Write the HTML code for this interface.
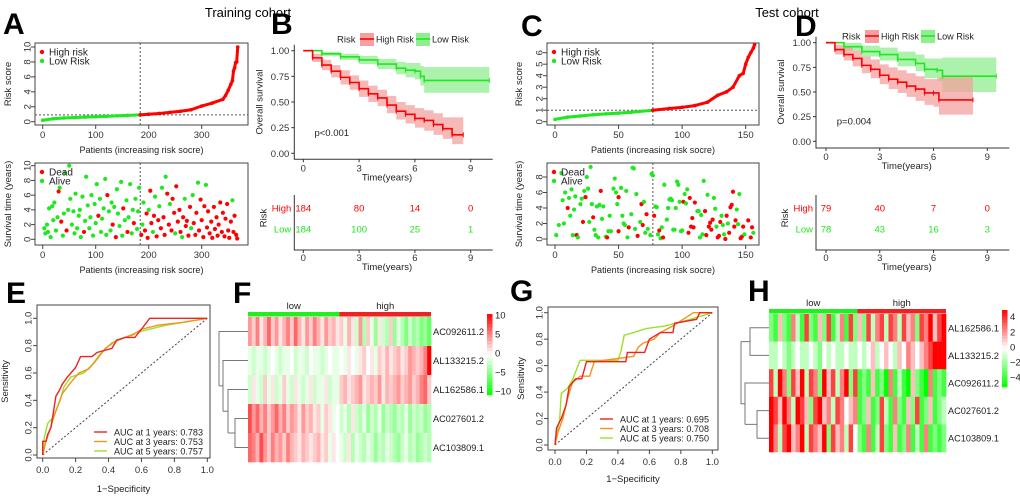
<!DOCTYPE html>
<html><head><meta charset="utf-8">
<style>
html,body{margin:0;padding:0;background:#fff;}
svg{display:block;font-family:"Liberation Sans",Arial,sans-serif;}
.t{font-size:9.5px;fill:#222;}
.tk{font-size:9.5px;fill:#333;}
.L{font-size:30px;font-weight:bold;fill:#000;}
</style></head>
<body>
<svg id="fig" width="1020" height="498" viewBox="0 0 1020 498" xmlns="http://www.w3.org/2000/svg">
<text x="248" y="17" text-anchor="middle" font-size="13">Training cohort</text>
<text x="787" y="17" text-anchor="middle" font-size="13">Test cohort</text>
<text class="L" x="3" y="34">A</text>
<text class="L" x="271" y="34">B</text>
<text class="L" x="521" y="36">C</text>
<text class="L" x="795" y="36">D</text>
<text class="L" x="6" y="303">E</text>
<text class="L" x="233" y="303">F</text>
<text class="L" x="510" y="301">G</text>
<text class="L" x="748" y="301">H</text>
<g id="root"></g>
</svg>
<script>
// ---------- DATA ----------
const riskIdxA=[0,20,40,60,80,100,120,140,160,184,200,220,240,260,280,300,320,340,345,350,355,358,360,362,364,366,368];
const riskValA=[0.2,0.4,0.5,0.56,0.62,0.67,0.72,0.78,0.84,0.92,1.0,1.1,1.25,1.4,1.6,2.1,2.5,3.0,3.5,4.2,5.0,5.5,6.8,7.2,7.9,8.0,10.0];
const riskIdxC=[0,10,20,30,40,50,60,77,90,100,110,120,128,135,140,145,148,150,152,154,156,157];
const riskValC=[0.2,0.4,0.5,0.6,0.68,0.75,0.82,1.0,1.15,1.25,1.4,1.7,2.3,2.6,3.0,4.0,4.2,5.0,5.6,6.0,6.4,6.7];
const survA=[[3,1.5,0],[5,0.8,0],[8,2,0],[10,1,0],[12,4.2,0],[15,0.3,0],[18,4.5,0],[20,2.6,0],[22,5,0],[25,1.2,0],[28,3,0],[30,6.5,1],[32,7,0],[35,2.4,1],[38,0.5,0],[40,3.5,0],[42,9,0],[45,1.2,1],[48,4,0],[50,10,0],[52,5.5,0],[55,2,0],[58,3.8,0],[60,0.8,0],[62,6.2,0],[65,1.5,0],[68,3.2,0],[70,4,0],[72,0.3,0],[75,5.8,0],[78,1,1],[80,2.5,0],[82,8.5,0],[85,4.6,0],[88,1.5,0],[90,3,0],[92,6,0],[95,0.5,0],[98,4.8,0],[100,2.2,0],[102,7.5,0],[105,3.2,1],[108,5.5,0],[110,1,0],[112,2.8,0],[115,4.2,0],[118,8.2,0],[120,0.6,0],[122,6,1],[125,3.8,0],[128,1.2,0],[130,5,0],[132,2,1],[135,4.4,0],[138,0.3,1],[140,6.8,0],[142,3.5,0],[145,1.8,0],[148,7.8,0],[150,0.5,0],[152,4.2,1],[155,2.6,0],[158,5.3,0],[160,1,1],[162,3,0],[165,7.5,0],[168,0.8,0],[170,4,0],[172,2.2,1],[175,5.5,0],[178,1.4,0],[180,3.8,0],[182,7,0],[186,0.6,1],[188,2,0],[190,5,0],[193,1.2,1],[196,3.5,1],[198,0.2,1],[200,4,0],[203,6.6,1],[205,2.2,1],[208,1,0],[210,3.2,1],[212,5.8,0],[215,0.4,1],[218,2.6,1],[220,4.5,0],[223,1.5,1],[225,7,0],[228,3,1],[230,0.6,1],[232,8.5,0],[235,6.2,1],[238,2,1],[240,4.8,0],[243,1.2,1],[245,5.5,1],[248,3.6,1],[250,0.8,0],[252,7.2,1],[255,2.4,1],[258,4,1],[260,1,1],[263,0.3,0],[265,3,1],[268,5.5,0],[270,1.8,1],[272,2.5,1],[275,0.5,1],[278,4.4,1],[280,1.5,0],[283,6,0],[285,2.2,1],[288,0.6,1],[290,3.6,1],[293,7.7,0],[295,1.2,1],[298,5.4,1],[300,2.6,1],[303,0.3,1],[305,4.5,1],[308,7.4,0],[310,1.6,1],[312,3.8,1],[315,0.8,1],[318,2.4,1],[320,0.2,1],[323,4.4,1],[325,1.4,1],[328,3,1],[330,0.5,1],[332,2,1],[335,5,1],[338,1,1],[340,3.6,1],[343,0.4,1],[345,2.8,1],[348,4.8,1],[350,1.2,1],[352,0.2,1],[355,2.4,1],[358,5.3,0],[360,1,1],[362,3.2,1],[365,0.6,1],[367,0.1,1]];
const survC=[[1,0.5,0],[3,1.8,0],[5,8.5,0],[6,5,0],[7,2,0],[8,6,0],[10,4,1],[11,5.3,0],[12,3,0],[13,6.4,0],[14,0.5,0],[15,3.8,0],[16,5.5,0],[17,0.5,1],[18,0.2,0],[20,4.5,0],[21,5.2,0],[22,2.2,1],[23,6.2,0],[24,5.4,1],[25,8,0],[26,6.5,0],[27,2.2,0],[28,9.3,0],[29,4.5,0],[30,2.8,1],[31,1.2,0],[32,0.5,0],[33,4.2,0],[34,0.2,0],[35,4.4,0],[36,6.2,1],[37,2.6,0],[38,4.2,0],[40,0.3,0],[41,0.2,1],[42,1,0],[43,3,0],[44,1,0],[46,6.5,0],[47,7.8,0],[48,6,0],[49,4.5,0],[50,5.4,1],[50,1,1],[52,6.6,0],[53,3,0],[54,2,0],[55,1.8,0],[56,6.2,0],[57,0.2,0],[58,1.5,1],[60,3.2,0],[61,9.2,0],[62,9.1,0],[63,1.3,0],[64,5.8,0],[65,0.4,1],[67,2.2,0],[68,4.5,1],[69,1.8,1],[70,4.8,0],[71,0.8,0],[72,3.2,1],[73,1.3,0],[75,0.5,0],[76,8.4,0],[77,8.2,0],[78,3,1],[79,4.2,0],[80,4.1,0],[81,0.6,0],[82,1.1,1],[83,0.1,0],[84,1.5,0],[85,0.2,1],[86,7,0],[88,2.5,0],[89,4,0],[90,5.1,0],[91,5.2,0],[92,5,0],[93,1.2,0],[94,1.2,0],[95,4,0],[96,7.4,0],[97,7,0],[98,4.8,0],[99,1,0],[100,1.1,0],[101,4.8,1],[102,5.8,0],[103,4.6,0],[104,6.4,0],[105,0.8,1],[106,5.3,1],[107,1.6,1],[108,2.7,1],[109,1.5,1],[110,4.7,1],[112,3.6,0],[113,3.6,0],[114,0.2,0],[115,3.1,0],[116,0.6,0],[117,7.5,0],[118,3.6,1],[119,0.5,1],[120,5.7,0],[121,1.6,1],[122,2.1,1],[123,1.2,1],[124,2.5,1],[125,5.3,0],[126,3.9,0],[127,1.6,0],[128,0.2,1],[129,0.4,1],[130,2.2,1],[131,3,0],[132,1.8,0],[133,0.6,0],[134,0,1],[135,3,1],[136,2,0],[137,0.8,1],[138,4.1,1],[139,4.4,1],[140,6.1,1],[141,1.6,1],[142,2.4,1],[143,3.8,0],[144,1.9,0],[145,5.8,0],[146,0.1,1],[147,0.3,1],[148,1.6,1],[149,0.6,0],[152,2.4,1],[154,0.2,1],[155,1.5,1],[156,0.8,0]];
// KM
const bHighT=[0,0.5,1,1.5,2,2.5,3,3.5,4,4.5,5,5.5,6,6.5,7,7.5,8,8.6];
const bHighS=[1,0.93,0.86,0.8,0.74,0.69,0.63,0.58,0.54,0.47,0.41,0.38,0.34,0.32,0.28,0.24,0.18,0.18];
const bHighLo=[1,0.89,0.81,0.74,0.67,0.62,0.55,0.5,0.46,0.39,0.33,0.29,0.25,0.22,0.18,0.14,0.09,0.09];
const bHighHi=[1,0.97,0.91,0.86,0.81,0.76,0.71,0.66,0.62,0.56,0.5,0.47,0.44,0.42,0.39,0.35,0.35,0.35];
const bLowT=[0,1,2,3,4,5,5.5,6,6.3,6.5,10];
const bLowS=[1,0.97,0.94,0.91,0.87,0.83,0.81,0.8,0.75,0.71,0.71];
const bLowLo=[1,0.95,0.91,0.87,0.82,0.77,0.74,0.72,0.66,0.59,0.59];
const bLowHi=[1,0.99,0.97,0.95,0.92,0.89,0.88,0.88,0.85,0.84,0.84];
const dHighT=[0,0.5,1,1.5,2,2.5,3,3.5,4,4.5,5,5.5,6,6.3,8.2];
const dHighS=[1,0.93,0.88,0.84,0.77,0.73,0.67,0.63,0.6,0.56,0.53,0.49,0.49,0.42,0.42];
const dHighLo=[1,0.88,0.82,0.76,0.69,0.64,0.58,0.53,0.49,0.45,0.41,0.37,0.35,0.27,0.27];
const dHighHi=[1,0.98,0.95,0.92,0.86,0.83,0.78,0.75,0.72,0.69,0.66,0.63,0.63,0.65,0.65];
const dLowT=[0,1,2,3,4,5,5.5,6.2,6.5,9.5];
const dLowS=[1,0.96,0.91,0.88,0.83,0.79,0.73,0.72,0.66,0.66];
const dLowLo=[1,0.92,0.86,0.82,0.76,0.71,0.64,0.61,0.5,0.5];
const dLowHi=[1,1,0.97,0.95,0.91,0.88,0.84,0.84,0.85,0.85];
const riskTimes=[0,3,6,9];
const bHighN=[184,80,14,0], bLowN=[184,100,25,1];
const dHighN=[79,40,7,0], dLowN=[78,43,16,3];
// ROC
const rocE1=[[0,0],[0,0.1],[0.02,0.1],[0.03,0.15],[0.05,0.2],[0.07,0.35],[0.08,0.43],[0.1,0.47],[0.12,0.52],[0.15,0.57],[0.2,0.64],[0.23,0.72],[0.3,0.72],[0.33,0.75],[0.42,0.78],[0.45,0.84],[0.5,0.86],[0.56,0.86],[0.6,0.92],[0.65,1],[1,1]];
const rocE3=[[0,0],[0.02,0.1],[0.04,0.17],[0.06,0.25],[0.08,0.32],[0.12,0.45],[0.17,0.53],[0.22,0.6],[0.28,0.63],[0.33,0.7],[0.38,0.78],[0.45,0.84],[0.55,0.88],[0.6,0.92],[0.7,0.95],[0.85,0.97],[0.9,0.98],[1,1]];
const rocE5=[[0,0],[0.01,0.13],[0.03,0.23],[0.06,0.27],[0.1,0.38],[0.13,0.5],[0.17,0.57],[0.25,0.6],[0.3,0.66],[0.35,0.74],[0.42,0.82],[0.5,0.86],[0.58,0.9],[0.65,0.92],[0.75,0.95],[0.9,0.98],[1,1]];
const rocG1=[[0,0],[0.01,0.13],[0.04,0.2],[0.07,0.3],[0.09,0.44],[0.13,0.5],[0.17,0.5],[0.2,0.63],[0.45,0.63],[0.46,0.7],[0.57,0.7],[0.6,0.8],[0.67,0.85],[0.75,0.85],[0.76,0.92],[0.9,0.95],[0.92,1],[1,1]];
const rocG3=[[0,0],[0.02,0.1],[0.05,0.2],[0.08,0.35],[0.11,0.47],[0.16,0.52],[0.22,0.52],[0.25,0.63],[0.5,0.67],[0.53,0.74],[0.56,0.77],[0.63,0.8],[0.67,0.85],[0.75,0.9],[0.88,1],[1,1]];
const rocG5=[[0,0],[0.03,0.2],[0.04,0.39],[0.08,0.43],[0.11,0.49],[0.16,0.64],[0.4,0.64],[0.42,0.71],[0.44,0.83],[0.5,0.85],[0.58,0.88],[0.7,0.9],[0.83,0.94],[1,1]];
const aucE=["0.783","0.753","0.757"], aucG=["0.695","0.708","0.750"];
// Heatmaps
const genesF=["AC092611.2","AL133215.2","AL162586.1","AC027601.2","AC103809.1"];
const heatF=[
[4,2,5,1,3,6,2,4,1,3,5,2,6,3,1,4,2,5,3,1,4,2,3,1,2,-1,3,1,-2,4,-3,2,-1,-4,1,-2,-3,2,-4,-1,-3,-5,-2,-4,-3,-5,-4,-6],
[-1,-2,-1,-1,-2,-1,0,-1,-2,-1,-1,0,-2,-1,-1,-2,0,-1,-1,-2,-1,0,-1,-1,0,-1,1,0,-1,1,2,0,1,-1,2,1,3,1,2,3,1,2,4,3,2,3,5,10],
[-2,1,-1,-2,2,-1,1,-2,-1,2,-1,-2,1,-1,-2,-1,1,-2,-1,-1,1,-2,-1,-1,2,3,1,2,3,4,1,2,3,2,4,1,3,2,3,4,2,3,4,2,3,5,6,2],
[7,4,6,3,5,2,4,6,3,5,2,4,3,1,4,2,3,1,2,-1,2,1,-1,0,-2,-1,-3,1,-2,-3,-1,-4,-2,-3,-1,-4,-2,-3,-4,-2,-3,-1,-4,-2,-3,-2,-4,-3],
[6,5,3,7,4,2,5,3,4,2,5,3,2,1,3,2,1,2,3,1,2,-1,1,0,-1,-2,1,-3,-1,-2,-3,-1,-2,-4,-2,-3,-1,-2,-3,-4,-2,-1,-3,-2,-4,-3,-2,-3]];
const genesH=["AL162586.1","AL133215.2","AC092611.2","AC027601.2","AC103809.1"];
const heatH=[
[-2,-3,1,-2,-3,2,-1,-3,3,-2,-3,1,-2,3,-3,-1,2,-3,3,-2,1,-2,3,-1,2,3,-1,3,2,-1,3,1,2,-2,3,2,4,1,3,4],
[-1,-1,0,-1,-2,-1,0,-1,-1,0,-1,-2,0,-1,0,-1,-1,0,-1,-1,0,-1,0,1,-1,0,1,0,-1,1,0,2,1,0,1,2,3,4,4,4],
[3,-1,4,2,-2,3,1,4,-1,3,2,-2,4,1,3,-1,2,4,-2,3,-3,-2,-3,1,-3,-2,-4,2,-3,-1,-3,-4,1,-2,-3,-4,2,-3,-2,-3],
[4,3,1,4,2,-1,4,3,1,-2,3,4,1,2,-1,3,2,0,1,2,-3,-2,1,-3,-2,3,-1,-3,2,-2,-3,1,-2,3,-3,-2,1,-3,-2,-1],
[4,2,-1,3,4,1,2,4,-1,3,2,1,4,-2,3,1,2,-1,3,0,-2,-3,2,-3,-1,3,-2,-3,1,-3,-2,2,-3,-1,-3,2,-3,-2,-3,-2]];

// ---------- helpers ----------
const NS="http://www.w3.org/2000/svg";
const root=document.getElementById('root');
function mk(tag,attrs,parent){const e=document.createElementNS(NS,tag);for(const k in attrs)e.setAttribute(k,attrs[k]);(parent||root).appendChild(e);return e;}
function txt(s,attrs,name){const e=mk('text',attrs);e.textContent=s;


return e;}
function lin(a,b,f,d){return {px:v=>a+(v-f)*(b-a)/(d-f)};}
const RED="#f00", GRN="#1ee81e";

// ---------- risk-score panels ----------
function riskPanel(o){
  const bx=o.box, xs=lin(o.x0,o.x1,0,o.xmax), ys=lin(o.y0,o.y1,0,o.ymax);
  let r=mk('rect',{x:bx[0],y:bx[1],width:bx[2]-bx[0],height:bx[3]-bx[1],fill:'none',stroke:'#444','stroke-width':1});
  
  
  o.xt.forEach(v=>{const l=mk('line',{x1:xs.px(v),x2:xs.px(v),y1:bx[3],y2:bx[3]+4,stroke:'#444'});
    
    
    txt(String(v),{x:xs.px(v),y:bx[3]+13,'text-anchor':'middle',class:'tk'},o.p+'-x-tick-label');});
  o.yt.forEach(v=>{const y=ys.px(v);const l=mk('line',{x1:bx[0]-4,x2:bx[0],y1:y,y2:y,stroke:'#444'});
    
    
    txt(String(v),{x:bx[0]-8,y:y,'text-anchor':'middle',class:'tk',transform:`rotate(-90 ${bx[0]-8} ${y})`,dy:'0.35em'},o.p+'-y-tick-label');});
  const cx=xs.px(o.cut);
  const v=mk('line',{x1:cx,x2:cx,y1:bx[1],y2:bx[3],stroke:'#555','stroke-dasharray':'2,2'});
  
  
  if(o.hcut!==undefined){const h=mk('line',{x1:bx[0],x2:bx[2],y1:ys.px(o.hcut),y2:ys.px(o.hcut),stroke:'#555','stroke-dasharray':'2,2'});
    
    }
  if(o.idx){
    for(let i=0;i<o.idx.length-1;i++){const col=o.idx[i]<o.cut?GRN:RED;
      const s=mk('line',{x1:xs.px(o.idx[i]),y1:ys.px(o.val[i]),x2:xs.px(o.idx[i+1]),y2:ys.px(o.val[i+1]),stroke:col,'stroke-width':3,'stroke-linecap':'round'});
      
      }
    o.idx.forEach((p,i)=>{const c=mk('circle',{cx:xs.px(p),cy:ys.px(o.val[i]),r:1.8,fill:p<o.cut?GRN:RED});
      
      });
  }
  if(o.pts){o.pts.forEach(q=>{const c=mk('circle',{cx:xs.px(q[0]),cy:ys.px(q[1]),r:2.1,fill:q[2]?RED:GRN});
    
    });}
  o.leg.forEach((s,i)=>{const y=bx[1]+9+i*9;const c=mk('circle',{cx:bx[0]+7,cy:y,r:2.2,fill:i?GRN:RED});
    
    
    txt(s,{x:bx[0]+14,y:y+3.5,class:'t',style:'font-size:10px'},o.p+'-legend-entry');});
  txt(o.ylab,{x:o.ylx,y:(bx[1]+bx[3])/2,'text-anchor':'middle',class:'t',transform:`rotate(-90 ${o.ylx} ${(bx[1]+bx[3])/2})`},o.p+'-y-axis-title');
  if(o.xlab)txt(o.xlab,{x:(bx[0]+bx[2])/2,y:bx[3]+28,'text-anchor':'middle',class:'t',textLength:124,lengthAdjust:'spacingAndGlyphs'},o.p+'-x-axis-title');
}
riskPanel({p:'a-risk',box:[35,43,248,125],x0:42.7,x1:201.7,xmax:300,y0:121.7,y1:47,ymax:10,xt:[0,100,200,300],yt:[0,2,4,6,8,10],cut:184,hcut:0.92,idx:riskIdxA,val:riskValA,leg:['High risk','Low Risk'],ylab:'Risk score',ylx:11,xlab:'Patients (increasing risk socre)'});
riskPanel({p:'a-survival',box:[35,163,248,245],x0:42.7,x1:201.7,xmax:300,y0:239.3,y1:165.7,ymax:10,xt:[0,100,200,300],yt:[0,2,4,6,8,10],cut:184,pts:survA,leg:['Dead','Alive'],ylab:'Survival time (years)',ylx:11,xlab:'Patients (increasing risk socre)'});
riskPanel({p:'c-risk',box:[547,43,759,125],x0:555,x1:745.7,xmax:150,y0:121.7,y1:52.7,ymax:6,xt:[0,50,100,150],yt:[0,1,2,3,4,5,6],cut:77,hcut:1.0,idx:riskIdxC,val:riskValC,leg:['High risk','Low Risk'],ylab:'Risk score',ylx:522,xlab:'Patients (increasing risk socre)'});
riskPanel({p:'c-survival',box:[547,163,759,245],x0:555,x1:745.7,xmax:150,y0:239,y1:177,ymax:8,xt:[0,50,100,150],yt:[0,2,4,6,8],cut:77,pts:survC,leg:['Dead','Alive'],ylab:'Survival time (years)',ylx:522,xlab:'Patients (increasing risk socre)'});

// ---------- KM panels ----------
function km(o){
  const xs=lin(o.x0,o.x9,0,9), ys=lin(o.y0,o.y1,0,1);
  function stepPts(T,S){let a=[];for(let i=0;i<T.length;i++){if(i>0)a.push([xs.px(T[i]),ys.px(S[i-1])]);a.push([xs.px(T[i]),ys.px(S[i])]);}return a;}
  [[o.lowT,o.lowS,o.lowLo,o.lowHi,GRN,'#90ee90','low'],[o.highT,o.highS,o.highLo,o.highHi,RED,'#f4a0a0','high']].forEach(g=>{
    const up=stepPts(g[0],g[3]), lo=stepPts(g[0],g[2]).reverse();
    const band=mk('polygon',{points:up.concat(lo).map(p=>p.join(',')).join(' '),fill:g[5],'fill-opacity':0.75});
    
    
  });
  [[o.lowT,o.lowS,GRN,'low'],[o.highT,o.highS,RED,'high']].forEach(g=>{
    const pl=mk('polyline',{points:stepPts(g[0],g[1]).map(p=>p.join(',')).join(' '),fill:'none',stroke:g[2],'stroke-width':1.6});
    
    
    g[0].forEach((t,i)=>{if(i==0)return;const x=xs.px(t),y=ys.px(g[1][i]);const c=mk('line',{x1:x,x2:x,y1:y-2.5,y2:y+2.5,stroke:g[2],'stroke-width':1});
      
      });
  });
  const ax=mk('path',{d:`M${o.ax},${o.y1-6}V${o.by}H${o.x9+22}`,fill:'none',stroke:'#333'});
  
  
  [0,0.25,0.5,0.75,1].forEach(v=>{const y=ys.px(v);const l=mk('line',{x1:o.ax-3,x2:o.ax,y1:y,y2:y,stroke:'#333'});
    
    
    txt(v.toFixed(2),{x:o.ax-5,y:y+3.5,'text-anchor':'end',class:'tk'},o.p+'-y-tick-label');});
  [0,3,6,9].forEach(v=>{const x=xs.px(v);const l=mk('line',{x1:x,x2:x,y1:o.by,y2:o.by+3,stroke:'#333'});
    
    
    txt(String(v),{x:x,y:o.by+12,'text-anchor':'middle',class:'tk'},o.p+'-x-tick-label');});
  txt('Time(years)',{x:(o.x0+o.x9)/2,y:o.by+21,'text-anchor':'middle',class:'t'},o.p+'-x-axis-title');
  txt('Overall survival',{x:o.ax-32,y:(o.y0+o.y1)/2,'text-anchor':'middle',class:'t',transform:`rotate(-90 ${o.ax-32} ${(o.y0+o.y1)/2})`},o.p+'-y-axis-title');
  txt(o.pval,{x:xs.px(0.6),y:ys.px(0.17),class:'t'},o.p+'-p-value');
  // legend
  const ly=o.ly;
  txt('Risk',{x:o.lx,y:ly+3.5,class:'t'},o.p+'-legend-title');
  [[RED,'#f4a0a0','High Risk',o.lx+23,38],[GRN,'#90ee90','Low Risk',o.lx+79,37]].forEach(g=>{
    const b=mk('rect',{x:g[3],y:ly-6,width:14,height:13,fill:g[1]});
    
    
    const l=mk('line',{x1:g[3],x2:g[3]+14,y1:ly,y2:ly,stroke:g[0],'stroke-width':1.6});
    
    
    txt(g[2],{x:g[3]+16,y:ly+3.5,class:'t',textLength:g[4],lengthAdjust:'spacingAndGlyphs'},o.p+'-legend-entry');});
  // risk table
  const tax=mk('path',{d:`M${o.ax},195V250H${o.x9+22}`,fill:'none',stroke:'#333'});
  
  
  [[208,'High',RED,o.highN],[229,'Low',GRN,o.lowN]].forEach(g=>{
    txt(g[1],{x:o.ax-3,y:g[0]+3.5,'text-anchor':'end',class:'t',style:'fill:'+g[2]},o.p+'-risk-table-row-label');
    g[3].forEach((n,i)=>txt(String(n),{x:xs.px(riskTimes[i]),y:g[0]+3.5,'text-anchor':'middle',class:'t',style:'fill:'+g[2]},o.p+'-number-at-risk'));});
  riskTimes.forEach(v=>{const x=xs.px(v);const l=mk('line',{x1:x,x2:x,y1:250,y2:253,stroke:'#333'});
    
    
    txt(String(v),{x:x,y:261,'text-anchor':'middle',class:'tk'},o.p+'-risk-table-x-tick-label');});
  txt('Time(years)',{x:(o.x0+o.x9)/2,y:270,'text-anchor':'middle',class:'t'},o.p+'-risk-table-x-axis-title');
  txt('Risk',{x:o.ax-28,y:218,'text-anchor':'middle',class:'t',transform:`rotate(-90 ${o.ax-28} 218)`},o.p+'-risk-table-y-title');
}
km({p:'b-km',x0:303.3,x9:470.7,y0:153.3,y1:50.7,ax:294.3,by:159.3,lx:337,ly:39,pval:'p<0.001',
  highT:bHighT,highS:bHighS,highLo:bHighLo,highHi:bHighHi,lowT:bLowT,lowS:bLowS,lowLo:bLowLo,lowHi:bLowHi,highN:bHighN,lowN:bLowN});
km({p:'d-km',x0:826,x9:987.3,y0:141.3,y1:42.7,ax:816,by:148,lx:842,ly:36,pval:'p=0.004',
  highT:dHighT,highS:dHighS,highLo:dHighLo,highHi:dHighHi,lowT:dLowT,lowS:dLowS,lowLo:dLowLo,lowHi:dLowHi,highN:dHighN,lowN:dLowN});

// ---------- ROC panels ----------
function roc(o){
  const xs=lin(o.x0,o.x1,0,1), ys=lin(o.y0,o.y1,0,1), bx=o.box;
  const fr=mk('rect',{x:bx[0],y:bx[1],width:bx[2]-bx[0],height:bx[3]-bx[1],fill:'none',stroke:'#444'});
  
  
  const dg=mk('line',{x1:xs.px(0),y1:ys.px(0),x2:xs.px(1),y2:ys.px(1),stroke:'#444','stroke-dasharray':'2,2'});
  
  
  const cols=['#ee2222','#f2931e','#9be12a'];
  [o.c5,o.c3,o.c1].forEach((c,k)=>{const col=cols[2-k];
    const pl=mk('polyline',{points:c.map(p=>xs.px(p[0])+','+ys.px(p[1])).join(' '),fill:'none',stroke:col,'stroke-width':1.4});
    
    });
  [0,0.2,0.4,0.6,0.8,1].forEach(v=>{
    const x=xs.px(v),y=ys.px(v),s=v.toFixed(1);
    const a=mk('line',{x1:x,x2:x,y1:bx[3],y2:bx[3]+4,stroke:'#444'});
    
    
    txt(s,{x:x,y:bx[3]+15,'text-anchor':'middle',class:'tk'},o.p+'-x-tick-label');
    const b=mk('line',{x1:bx[0]-4,x2:bx[0],y1:y,y2:y,stroke:'#444'});
    
    
    txt(s,{x:bx[0]-9,y:y,'text-anchor':'middle',class:'tk',transform:`rotate(-90 ${bx[0]-9} ${y})`,dy:'0.35em'},o.p+'-y-tick-label');});
  txt('1−Specificity',{x:(bx[0]+bx[2])/2,y:o.xty,'text-anchor':'middle',class:'t'},o.p+'-x-axis-title');
  txt('Sensitivity',{x:o.ylx,y:(bx[1]+bx[3])/2,'text-anchor':'middle',class:'t',transform:`rotate(-90 ${o.ylx} ${(bx[1]+bx[3])/2})`},o.p+'-y-axis-title');
  ['1','3','5'].forEach((yr,i)=>{const y=o.ly+i*9.5;
    const l=mk('line',{x1:o.lx,x2:o.lx+13,y1:y,y2:y,stroke:cols[i],'stroke-width':1.4});
    
    
    txt(`AUC at ${yr} years: ${o.auc[i]}`,{x:o.lx+20,y:y+3.5,class:'t',textLength:89,lengthAdjust:'spacingAndGlyphs'},o.p+'-legend-entry');});
}
roc({p:'e-roc',box:[37,305,210,458],x0:42.7,x1:207.3,y0:455,y1:318.3,c1:rocE1,c3:rocE3,c5:rocE5,auc:aucE,lx:94,ly:432,xty:492,ylx:8});
roc({p:'g-roc',box:[548,307,718,450],x0:555,x1:712.3,y0:445,y1:312.7,c1:rocG1,c3:rocG3,c5:rocG5,auc:aucG,lx:600,ly:419,xty:482,ylx:524});

// ---------- Heatmaps ----------
function colr(v,m){const t=Math.max(-1,Math.min(1,v/m));
  if(t>=0){const g=Math.round(255*(1-t));return `rgb(255,${g},${g})`;}
  const r=Math.round(255*(1+t));return `rgb(${r},255,${r})`;}
function heat(o){
  const n=o.data[0].length, cw=(o.x1-o.x0)/n, rh=(o.y1-o.y0)/o.data.length;
  const bl=mk('rect',{x:o.x0,y:o.y0-5,width:(o.x1-o.x0)/2,height:4.5,fill:'#22ee22'});
  
  
  const bh=mk('rect',{x:(o.x0+o.x1)/2,y:o.y0-5,width:(o.x1-o.x0)/2,height:4.5,fill:'#ee2222'});
  
  
  txt('low',{x:o.x0+(o.x1-o.x0)/4,y:o.y0-8,'text-anchor':'middle',class:'t'},o.p+'-low-group-label');
  txt('high',{x:o.x0+3*(o.x1-o.x0)/4,y:o.y0-8,'text-anchor':'middle',class:'t'},o.p+'-high-group-label');
  o.data.forEach((row,r)=>{row.forEach((v,c)=>{
    const e=mk('rect',{x:o.x0+c*cw,y:o.y0+r*rh,width:cw+0.3,height:rh+0.3,fill:colr(v,o.m)});
    
    });
    txt(o.genes[r],{x:o.x1+2,y:o.y0+(r+0.5)*rh+3.5,class:'t',textLength:51,lengthAdjust:'spacingAndGlyphs'},o.p+'-gene-label');});
  const steps=24;
  for(let i=0;i<steps;i++){const v=o.m-(2*o.m)*(i+0.5)/steps;
    const e=mk('rect',{x:o.cbx,y:o.cby0+i*(o.cby1-o.cby0)/steps,width:5.5,height:(o.cby1-o.cby0)/steps+0.3,fill:colr(v,o.m)});
    
    }
  o.cbt.forEach((v,i)=>{const y=o.cbl0+i*(o.cbl1-o.cbl0)/(o.cbt.length-1);
    txt(v<0?'−'+(-v):String(v),{x:o.cbx+8,y:y+3.5,class:'t'},o.p+'-colorbar-label');});
  const rc=r=>o.y0+(r+0.5)*rh;
  const d=mk('path',{d:o.dend(rc),fill:'none',stroke:'#777','stroke-width':1});
  
  
}
heat({p:'f-heatmap',x0:248,x1:431,y0:317,y1:462,data:heatF,genes:genesF,m:10,cbx:487,cby0:314,cby1:395,cbl0:315,cbl1:391,cbt:[10,5,0,-5,-10],
  dend:rc=>{const m45=(rc(3)+rc(4))/2, m345=(rc(2)+m45)/2, m2=(rc(1)+m345)/2;
    return `M248,${rc(3)}H235V${rc(4)}H248 M235,${m45}H228 M248,${rc(2)}H228V${m45} M228,${m345}H223 M248,${rc(1)}H223V${m345} M223,${m2}H219 M248,${rc(0)}H219V${m2}`;}});
heat({p:'h-heatmap',x0:769,x1:946,y0:314,y1:452,data:heatH,genes:genesH,m:4,cbx:1002,cby0:310,cby1:387,cbl0:316.7,cbl1:377,cbt:[4,2,0,-2,-4],
  dend:rc=>{const m12=(rc(0)+rc(1))/2, m45=(rc(3)+rc(4))/2, m345=(rc(2)+m45)/2;
    return `M769,${rc(0)}H750V${rc(1)}H769 M769,${rc(3)}H757V${rc(4)}H769 M757,${m45}H745 M769,${rc(2)}H745V${m45} M750,${m12}H741V${m345}H745`;}});
</script>
</body></html>
